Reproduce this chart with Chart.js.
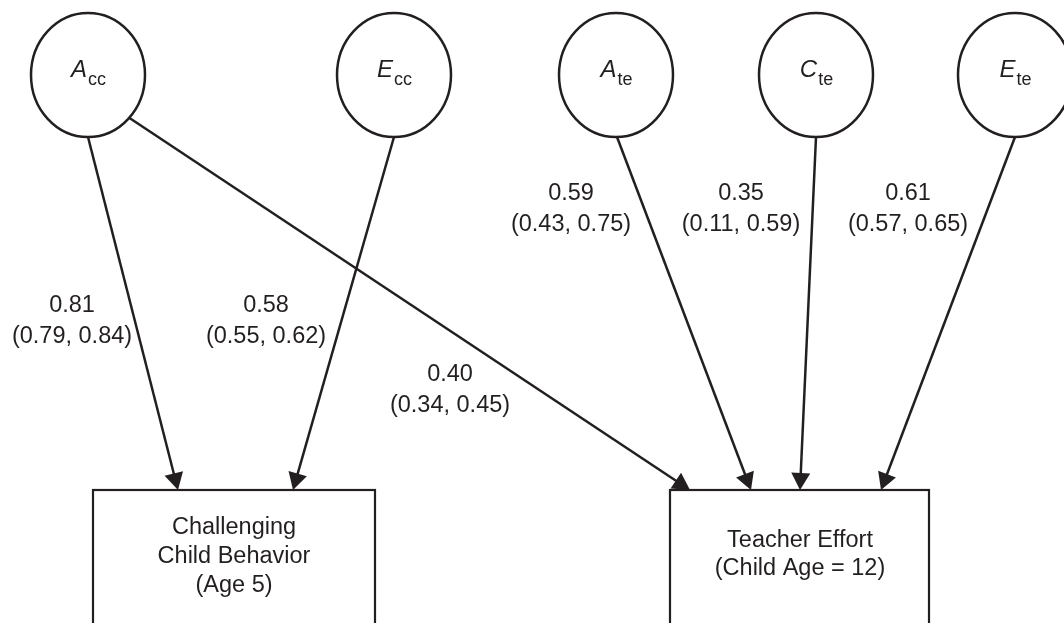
<!DOCTYPE html>
<html>
<head>
<meta charset="utf-8">
<script src="https://cdn.jsdelivr.net/npm/chart.js@4.4.1/dist/chart.umd.min.js"></script>
<style>
  html, body { margin: 0; padding: 0; background: #fff; }
  #wrap { width: 1064px; height: 623px; }
</style>
</head>
<body>
<div id="wrap"><canvas id="sem-canvas"></canvas></div>
<script>
// latent variables (letter + subscript)
var nodeIds = ['Acc', 'Ecc', 'Ate', 'Cte', 'Ete'];
var nodeLetters = ['A', 'E', 'A', 'C', 'E'];
var nodeSubs = ['cc', 'cc', 'te', 'te', 'te'];

// observed outcomes
var outcomeIds = ['CCB', 'TE'];
var outcomeLines = [
  ['Challenging', 'Child Behavior', '(Age 5)'],
  ['Teacher Effort', '(Child Age = 12)']
];

// paths and standardized estimates with 95% CI
var pathFrom = ['Acc', 'Ecc', 'Acc', 'Ate', 'Cte', 'Ete'];
var pathTo = ['CCB', 'CCB', 'TE', 'TE', 'TE', 'TE'];
var estimates = [0.81, 0.58, 0.40, 0.59, 0.35, 0.61];
var ciLow = [0.79, 0.55, 0.34, 0.43, 0.11, 0.57];
var ciHigh = [0.84, 0.62, 0.45, 0.75, 0.59, 0.65];

// layout (in scale units, 1 unit = 1px)
var layout = {
  nodes: { Acc: [88, 75], Ecc: [394, 75], Ate: [616, 75], Cte: [816, 75], Ete: [1015, 75] },
  rx: 57, ry: 62,
  boxes: { CCB: [93, 490, 375, 650], TE: [670, 490, 929, 650] },
  boxText: { CCB: [234, 528, 29], TE: [800, 541, 28] },
  starts: [[88, 137], [394, 137], [128, 117], [617, 137], [816, 137], [1015, 137]],
  tips: [[178, 490], [293, 490], [690, 490], [751, 490], [800, 490], [881, 490]],
  labels: [[72, 306], [266, 306], [450, 375], [571, 194], [741, 194], [908, 194]],
  labelGap: 31
};

var ink = '#231f20';
var fontFam = '"Liberation Sans", Arial, Helvetica, sans-serif';
var headLen = 17, headHalf = 9.5;

function shorten(s, t, d) {
  var dx = t[0] - s[0], dy = t[1] - s[1];
  var len = Math.sqrt(dx * dx + dy * dy);
  return { x: t[0] - dx / len * d, y: t[1] - dy / len * d };
}

var datasets = [];
for (var i = 0; i < pathFrom.length; i++) {
  var s = layout.starts[i], t = layout.tips[i];
  datasets.push({
    label: pathFrom[i] + ' -> ' + pathTo[i],
    data: [{ x: s[0], y: s[1] }, shorten(s, t, headLen - 2)],
    showLine: true,
    borderColor: ink,
    borderWidth: 2.5,
    pointRadius: 0,
    fill: false
  });
}

var diagramPlugin = {
  id: 'diagram',
  afterDatasetsDraw: function(chart) {
    var ctx = chart.ctx;
    var xs = chart.scales.x, ys = chart.scales.y;
    var px = function(v) { return xs.getPixelForValue(v); };
    var py = function(v) { return ys.getPixelForValue(v); };
    ctx.save();
    ctx.strokeStyle = ink;
    ctx.fillStyle = ink;

    // latent ellipses
    ctx.lineWidth = 2.5;
    for (var n = 0; n < nodeIds.length; n++) {
      var c = layout.nodes[nodeIds[n]];
      var cx = px(c[0]), cy = py(c[1]);
      ctx.beginPath();
      ctx.ellipse(cx, cy, Math.abs(px(layout.rx) - px(0)), Math.abs(py(layout.ry) - py(0)), 0, 0, Math.PI * 2);
      ctx.fillStyle = '#fff';
      ctx.fill();
      ctx.stroke();
      ctx.fillStyle = ink;
      var bigFont = 'italic 24px ' + fontFam, subFont = '18px ' + fontFam;
      ctx.font = bigFont;
      var w1 = ctx.measureText(nodeLetters[n]).width;
      ctx.font = subFont;
      var w2 = ctx.measureText(nodeSubs[n]).width;
      var x0 = cx - (w1 + w2) / 2;
      ctx.textAlign = 'left';
      ctx.textBaseline = 'alphabetic';
      ctx.font = bigFont;
      ctx.fillText(nodeLetters[n], x0, cy + 2);
      ctx.font = subFont;
      ctx.fillText(nodeSubs[n], x0 + w1 + 1, cy + 10);
    }

    // outcome boxes
    ctx.lineWidth = 2.2;
    for (var b = 0; b < outcomeIds.length; b++) {
      var r = layout.boxes[outcomeIds[b]];
      ctx.strokeRect(px(r[0]), py(r[1]), px(r[2]) - px(r[0]), py(r[3]) - py(r[1]));
      var tp = layout.boxText[outcomeIds[b]];
      ctx.font = '23.5px ' + fontFam;
      ctx.textAlign = 'center';
      ctx.textBaseline = 'middle';
      outcomeLines[b].forEach(function(line, k) {
        ctx.fillText(line, px(tp[0]), py(tp[1] + k * tp[2]));
      });
    }

    // arrow heads
    for (var i = 0; i < pathFrom.length; i++) {
      var s = layout.starts[i], t = layout.tips[i];
      var tx = px(t[0]), ty = py(t[1]);
      var ang = Math.atan2(py(t[1]) - py(s[1]), px(t[0]) - px(s[0]));
      ctx.beginPath();
      ctx.moveTo(tx, ty);
      ctx.lineTo(tx - headLen * Math.cos(ang) + headHalf * Math.sin(ang), ty - headLen * Math.sin(ang) - headHalf * Math.cos(ang));
      ctx.lineTo(tx - headLen * Math.cos(ang) - headHalf * Math.sin(ang), ty - headLen * Math.sin(ang) + headHalf * Math.cos(ang));
      ctx.closePath();
      ctx.fill();
    }

    // path coefficients
    ctx.font = '23.5px ' + fontFam;
    ctx.textAlign = 'center';
    ctx.textBaseline = 'middle';
    for (var j = 0; j < estimates.length; j++) {
      var lp = layout.labels[j];
      ctx.fillText(estimates[j].toFixed(2), px(lp[0]), py(lp[1]));
      ctx.fillText('(' + ciLow[j].toFixed(2) + ', ' + ciHigh[j].toFixed(2) + ')', px(lp[0]), py(lp[1] + layout.labelGap));
    }
    ctx.restore();
  }
};

var chartObj = new Chart(document.getElementById('sem-canvas').getContext('2d'), {
  type: 'scatter',
  data: { datasets: datasets },
  options: {
    responsive: true,
    maintainAspectRatio: false,
    animation: false,
    layout: { padding: 0 },
    scales: {
      x: { type: 'linear', min: 0, max: 1064, display: false },
      y: { type: 'linear', min: 0, max: 623, reverse: true, display: false }
    },
    plugins: { legend: { display: false }, tooltip: { enabled: false } }
  },
  plugins: [diagramPlugin]
});
</script>
</body>
</html>
